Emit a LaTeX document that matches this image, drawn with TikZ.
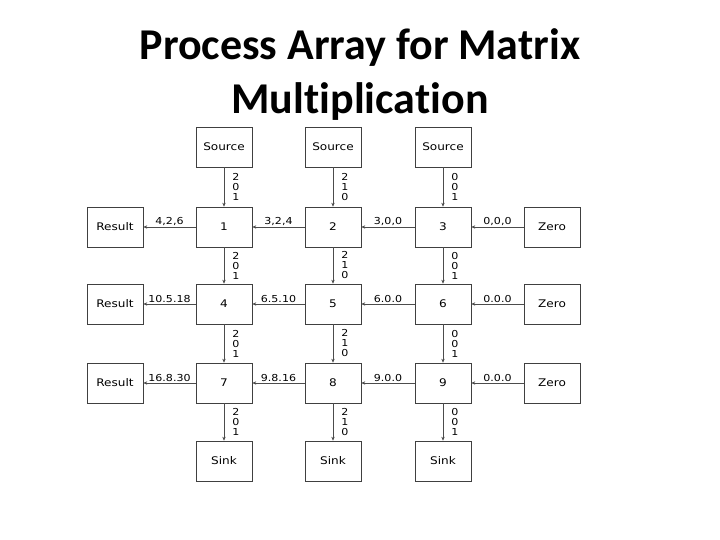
\documentclass[tikz,border=0pt]{standalone}
\usepackage{fontspec}
\usetikzlibrary{arrows.meta}
\newfontfamily\headfont[Ligatures=NoCommon]{Carlito}
\newfontfamily\gridfont[FakeStretch=1.15]{DejaVu Sans}

\tikzset{
  cell/.style = {draw = black!75, line width = .6pt, minimum width = 56pt, minimum height = 40pt, inner sep = 0pt, font = \gridfont\fontsize{10.5}{12}\selectfont},
  flow/.style = {draw = black!70, line width = .6pt, -{Stealth[length = 4pt, width = 3.4pt]}},
  hlab/.style = {midway, above, inner sep = 1.2pt, font = \gridfont\fontsize{9.6}{10}\selectfont},
  vlab/.style = {midway, right, inner sep = 0pt, xshift = 8pt, align = center, font = \gridfont\fontsize{9.6}{10}\selectfont}
}

\begin{document}
\begin{tikzpicture}[x = 1pt, y = -1pt]
      \useasboundingbox (0, 0) rectangle (720, 540);
      \node [anchor = base, font = \headfont\bfseries\fontsize{44}{53}\selectfont] (head1) at (360, 60) {Process Array for Matrix};
      \node [anchor = base, font = \headfont\bfseries\fontsize{44}{53}\selectfont] (head2) at (360, 114) {Multiplication};
      \node [cell] (src1) at (224, 147) {Source};
      \node [cell] (src2) at (333, 147) {Source};
      \node [cell] (src3) at (443, 147) {Source};
      \node [cell] (res1) at (115, 227) {Result};
      \node [cell] (res2) at (115, 304) {Result};
      \node [cell] (res3) at (115, 383) {Result};
      \node [cell] (p1) at (224, 227) {1};
      \node [cell] (p2) at (333, 227) {2};
      \node [cell] (p3) at (443, 227) {3};
      \node [cell] (p4) at (224, 304) {4};
      \node [cell] (p5) at (333, 304) {5};
      \node [cell] (p6) at (443, 304) {6};
      \node [cell] (p7) at (224, 383) {7};
      \node [cell] (p8) at (333, 383) {8};
      \node [cell] (p9) at (443, 383) {9};
      \node [cell] (zero1) at (552, 227) {Zero};
      \node [cell] (zero2) at (552, 304) {Zero};
      \node [cell] (zero3) at (552, 383) {Zero};
      \node [cell] (sink1) at (224, 461) {Sink};
      \node [cell] (sink2) at (333, 461) {Sink};
      \node [cell] (sink3) at (443, 461) {Sink};
      % columns, top to bottom
      \draw [flow] (src1) -- (p1) node [vlab] {2\\0\\1};
      \draw [flow] (p1) -- (p4) node [vlab] {2\\0\\1};
      \draw [flow] (p4) -- (p7) node [vlab] {2\\0\\1};
      \draw [flow] (p7) -- (sink1) node [vlab] {2\\0\\1};
      \draw [flow] (src2) -- (p2) node [vlab] {2\\1\\0};
      \draw [flow] (p2) -- (p5) node [vlab] {2\\1\\0};
      \draw [flow] (p5) -- (p8) node [vlab] {2\\1\\0};
      \draw [flow] (p8) -- (sink2) node [vlab] {2\\1\\0};
      \draw [flow] (src3) -- (p3) node [vlab] {0\\0\\1};
      \draw [flow] (p3) -- (p6) node [vlab] {0\\0\\1};
      \draw [flow] (p6) -- (p9) node [vlab] {0\\0\\1};
      \draw [flow] (p9) -- (sink3) node [vlab] {0\\0\\1};
      % rows, right to left
      \draw [flow] (zero1) -- (p3) node [hlab] {0,0,0};
      \draw [flow] (p3) -- (p2) node [hlab] {3,0,0};
      \draw [flow] (p2) -- (p1) node [hlab] {3,2,4};
      \draw [flow] (p1) -- (res1) node [hlab] {4,2,6};
      \draw [flow] (zero2) -- (p6) node [hlab] {0.0.0};
      \draw [flow] (p6) -- (p5) node [hlab] {6.0.0};
      \draw [flow] (p5) -- (p4) node [hlab] {6.5.10};
      \draw [flow] (p4) -- (res2) node [hlab] {10.5.18};
      \draw [flow] (zero3) -- (p9) node [hlab] {0.0.0};
      \draw [flow] (p9) -- (p8) node [hlab] {9.0.0};
      \draw [flow] (p8) -- (p7) node [hlab] {9.8.16};
      \draw [flow] (p7) -- (res3) node [hlab] {16.8.30};
\end{tikzpicture}
\end{document}
